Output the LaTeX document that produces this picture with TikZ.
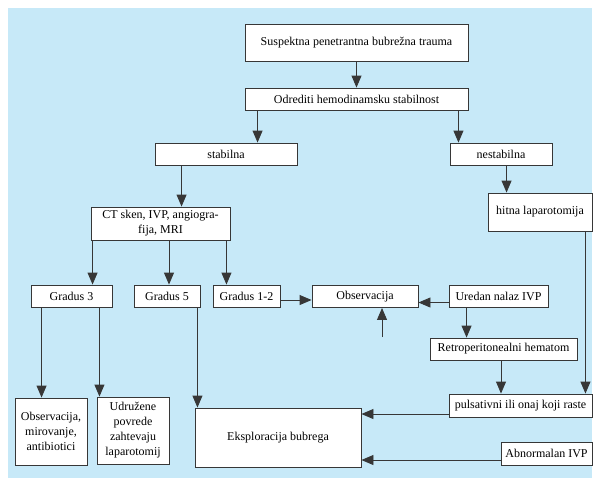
\documentclass[tikz,border=0pt]{standalone}
\usepackage{fontspec}
\setmainfont{Liberation Serif}
\usetikzlibrary{arrows.meta}
\definecolor{bgblue}{RGB}{199,233,248}
\definecolor{linegray}{RGB}{55,55,55}

\begin{document}
\begin{tikzpicture}[x=1pt, y=-1pt,
  box/.style={draw=linegray, line width=0.9pt, fill=white, inner sep=0pt, align=center,
    font=\fontsize{12}{15}\selectfont},
  arr/.style={draw=linegray, line width=0.9pt, -{Triangle[length=12pt,width=10pt]}}]

% Page size and background
\useasboundingbox (0,0) rectangle (593,480);
\fill[bgblue] (8,8) rectangle (592,478);

% Top of the chart
\node[box, minimum width=223pt, minimum height=37pt] (susp) at (356.5,42.5) {Suspektna penetrantna bubrežna trauma};
\node[box, minimum width=223pt, minimum height=22pt] (odr) at (356.5,99) {Odrediti hemodinamsku stabilnost};
\node[box, minimum width=142pt, minimum height=22pt] (stab) at (226,154) {stabilna};
\node[box, minimum width=102pt, minimum height=22pt] (nestab) at (501,154) {nestabilna};
\node[box, minimum width=104pt, minimum height=38pt] (hitna) at (540,212) {hitna laparotomija};
\node[box, minimum width=139pt, minimum height=33pt] (ct) at (160.5,223.5) {CT sken, IVP, angiogra-\\fija, MRI};

% Middle row
\node[box, minimum width=81pt, minimum height=22pt] (g3) at (71.5,296) {Gradus 3};
\node[box, minimum width=66pt, minimum height=22pt] (g5) at (167,296) {Gradus 5};
\node[box, minimum width=67pt, minimum height=22pt] (g12) at (246.5,296) {Gradus 1-2};
\node[box, minimum width=106pt, minimum height=22pt] (obs) at (365,296.5) {Observacija};
\node[box, minimum width=99pt, minimum height=22pt] (ured) at (498.5,296.5) {Uredan nalaz IVP};
\node[box, minimum width=147pt, minimum height=22pt] (retro) at (503.5,349) {Retroperitonealni hematom};
\node[box, minimum width=143pt, minimum height=23pt] (puls) at (520.5,405.5) {pulsativni ili onaj koji raste};

% Bottom row
\node[box, minimum width=72pt, minimum height=67pt] (obsmir) at (51,431.5) {Observacija,\\mirovanje,\\antibiotici};
\node[box, minimum width=72pt, minimum height=67pt] (udr) at (133,430.5) {Udružene\\povrede\\zahtevaju\\laparotomij};
\node[box, minimum width=166pt, minimum height=59pt] (eks) at (278,437.5) {Eksploracija bubrega};
\node[box, minimum width=91pt, minimum height=23pt] (abn) at (546.5,453.5) {Abnormalan IVP};
\coordinate (obsin) at (382,337);

% Arrows
\draw[arr] (susp) -- (odr);
\draw[arr] ([xshift=13pt]odr.south west) -- ([xshift=13pt]odr.south west |- stab.north);
\draw[arr] ([xshift=-10pt]odr.south east) -- ([xshift=-10pt]odr.south east |- nestab.north);
\draw[arr] ([xshift=27pt]stab.south west) -- ([xshift=27pt]stab.south west |- ct.north);
\draw[arr] ([xshift=57pt]nestab.south west) -- ([xshift=57pt]nestab.south west |- hitna.north);
\draw[arr] ([xshift=2pt]ct.south west) -- ([xshift=2pt]ct.south west |- g3.north);
\draw[arr] ([xshift=2pt]g5.north |- ct.south) -- ([xshift=2pt]g5.north);
\draw[arr] ([xshift=-4pt]ct.south east) -- ([xshift=-4pt]ct.south east |- g12.north);
\draw[arr] ([yshift=-4pt]g12.east) -- ([yshift=-4pt]g12.east -| obs.west);
\draw[arr] ([yshift=-6pt]ured.west) -- ([yshift=-6pt]ured.west -| obs.east);
\draw[arr] (obsin) -- (obsin |- obs.south);
\draw[arr] ([xshift=18pt]ured.south west) -- ([xshift=18pt]ured.south west |- retro.north);
\draw[arr] ([xshift=-7pt]hitna.south east) -- ([xshift=-7pt]hitna.south east |- puls.north);
\draw[arr] ([xshift=-2.5pt]retro.south) -- ([xshift=-2.5pt]retro.south |- puls.north);
\draw[arr] ([yshift=-8.5pt]puls.west) -- ([yshift=-8.5pt]puls.west -| eks.east);
\draw[arr] ([yshift=-6.5pt]abn.west) -- ([yshift=-6.5pt]abn.west -| eks.east);
\draw[arr] ([xshift=11pt]g3.south west) -- ([xshift=11pt]g3.south west |- obsmir.north);
\draw[arr] ([xshift=-13pt]g3.south east) -- ([xshift=-13pt]g3.south east |- udr.north);
\draw[arr] ([xshift=-3pt]g5.south east) -- ([xshift=-3pt]g5.south east |- eks.north);
\end{tikzpicture}
\end{document}
